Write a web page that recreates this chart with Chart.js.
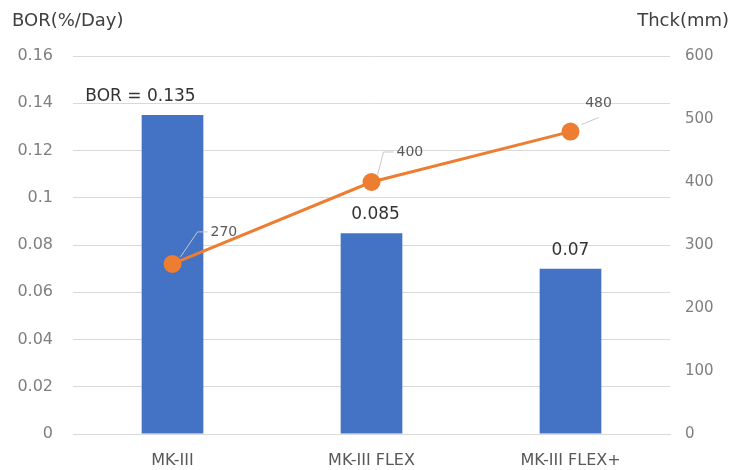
<!DOCTYPE html>
<html>
<head>
<meta charset="utf-8">
<script src="https://cdn.jsdelivr.net/npm/chart.js@4"></script>
<style>
  body { margin: 0; background: #fff; }
  #wrap { width: 733px; height: 470px; position: relative; }
</style>
</head>
<body>
<div id="wrap"><canvas id="c"></canvas></div>
<script>
// --- data ---
const categories = ['MK-III', 'MK-III FLEX', 'MK-III FLEX+'];
const borValues = [0.135, 0.085, 0.07];
const borLabels = ['BOR = 0.135', '0.085', '0.07'];
const thickValues = [270, 400, 480];
const leftTitle = 'BOR(%/Day)';
const rightTitle = 'Thck(mm)';

const BLUE = '#4472C4';
const ORANGE = '#ED7D31';
const FONT = '"DejaVu Sans", "Noto Sans", sans-serif';

// labels + axis titles drawn on top
const labelPlugin = {
    id: 'labels',
    afterDatasetsDraw(chart) {
        const ctx = chart.ctx;
        ctx.save();
        // bar labels (first one sits a bit left, like the original)
        const bars = chart.getDatasetMeta(0).data;
        const shift = [-32, 4, 0];
        ctx.font = '17px ' + FONT;
        ctx.fillStyle = '#333';
        ctx.textAlign = 'center';
        ctx.textBaseline = 'alphabetic';
        bars.forEach((b, i) => {
            ctx.fillText(borLabels[i], b.x + shift[i], b.y - 14);
        });
        // line labels with leader lines
        const pts = chart.getDatasetMeta(1).data;
        // [start dx, start dy, corner dx, corner dy, horizontal run]
        const legs = [[8, -7, 25, -32, 10], [6, -7, 12, -30, 10], [11, -7, 28, -14, 0]];
        ctx.font = '14px ' + FONT;
        ctx.fillStyle = '#595959';
        ctx.textBaseline = 'middle';
        pts.forEach((p, i) => {
            const [sx, sy, cx, cy, hx] = legs[i];
            ctx.strokeStyle = '#c8c8c8';
            ctx.lineWidth = 1;
            ctx.beginPath();
            ctx.moveTo(p.x + sx, p.y + sy);
            ctx.lineTo(p.x + cx, p.y + cy);
            if (hx) ctx.lineTo(p.x + cx + hx, p.y + cy);
            ctx.stroke();
            if (hx) {
                ctx.textAlign = 'left';
                ctx.fillText(String(thickValues[i]), p.x + cx + hx + 3, p.y + cy);
            } else {
                ctx.textAlign = 'center';
                ctx.fillText(String(thickValues[i]), p.x + cx, p.y + cy - 14);
            }
        });
        // axis titles
        ctx.font = '18px ' + FONT;
        ctx.fillStyle = '#404040';
        ctx.textBaseline = 'middle';
        ctx.textAlign = 'left';
        ctx.fillText(leftTitle, 12, 21);
        ctx.textAlign = 'right';
        ctx.fillText(rightTitle, 729, 21);
        ctx.restore();
    }
};

new Chart(document.getElementById('c'), {
    data: {
        labels: categories,
        datasets: [
            {
                type: 'bar',
                data: borValues,
                backgroundColor: BLUE,
                yAxisID: 'y',
                categoryPercentage: 1,
                barPercentage: 0.31,
                order: 2
            },
            {
                type: 'line',
                data: thickValues,
                borderColor: ORANGE,
                backgroundColor: ORANGE,
                borderWidth: 3,
                pointRadius: 9,
                pointHoverRadius: 9,
                pointBorderWidth: 0,
                yAxisID: 'y1',
                order: 1
            }
        ]
    },
    options: {
        responsive: true,
        maintainAspectRatio: false,
        animation: false,
        layout: { padding: { top: 56, left: 0, right: 0, bottom: 0 } },
        plugins: { legend: { display: false }, tooltip: { enabled: false } },
        scales: {
            x: {
                grid: { display: false },
                border: { color: '#d9d9d9' },
                ticks: { color: '#595959', font: { size: 16, family: FONT }, padding: 9 },
                afterFit: s => { s.height = 36; }
            },
            y: {
                position: 'left',
                min: 0, max: 0.16,
                ticks: {
                    stepSize: 0.02,
                    color: '#7f7f7f',
                    padding: 20,
                    font: { size: 16, family: FONT },
                    callback: v => String(Math.round(v * 100) / 100)
                },
                grid: { color: '#d9d9d9', drawTicks: false },
                border: { display: false },
                afterFit: s => { s.width = 73; }
            },
            y1: {
                position: 'right',
                min: 0, max: 600,
                ticks: {
                    stepSize: 100,
                    color: '#7f7f7f',
                    padding: 15,
                    font: { size: 15, family: FONT }
                },
                grid: { display: false, drawTicks: false },
                border: { display: false },
                afterFit: s => { s.width = 63; }
            }
        }
    },
    plugins: [labelPlugin]
});
</script>
</body>
</html>
